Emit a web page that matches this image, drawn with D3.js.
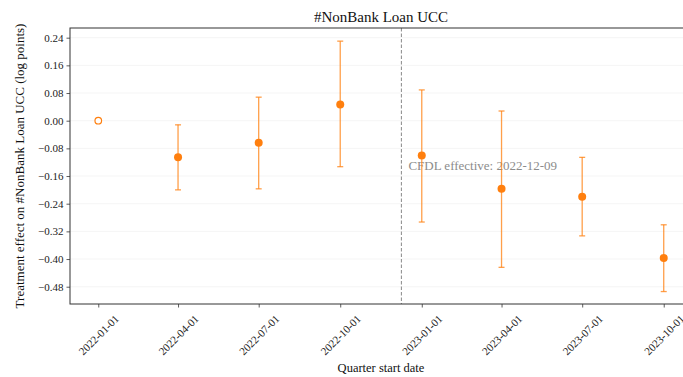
<!DOCTYPE html>
<html>
<head>
<meta charset="utf-8">
<script src="https://cdn.jsdelivr.net/npm/d3@7"></script>
<style>
  body { margin: 0; background: #fff; }
  svg, svg text { font-family: "Liberation Serif", "DejaVu Serif", serif; }
</style>
</head>
<body>
<script>
// quarters and estimates (log points)
var quarters = ["2022-01-01", "2022-04-01", "2022-07-01", "2022-10-01",
                "2023-01-01", "2023-04-01", "2023-07-01", "2023-10-01"];
var estimate = [0, -0.106, -0.064, 0.047, -0.101, -0.197, -0.220, -0.397];
var ciLow = [null, -0.200, -0.197, -0.133, -0.293, -0.424, -0.333, -0.494];
var ciHigh = [null, -0.012, 0.068, 0.230, 0.089, 0.028, -0.106, -0.301];
var yTicks = [0.24, 0.16, 0.08, 0.00, -0.08, -0.16, -0.24, -0.32, -0.40, -0.48];
var eventDate = "2022-12-09";

var width = 683, height = 377;
var margin = { top: 28, right: -9, bottom: 73, left: 70 };
var parse = d3.utcParse("%Y-%m-%d");
var fmt = d3.utcFormat("%Y-%m-%d");
var orange = "#ff7f0e";

var data = quarters.map(function(q, i) {
    return { date: parse(q), est: estimate[i], lo: ciLow[i], hi: ciHigh[i] };
});

var svg = d3.select("body").append("svg")
    .attr("width", width)
    .attr("height", height);

// matplotlib style 5% padding on the date range
var x0 = data[0].date, x1 = data[data.length - 1].date;
var pad = (x1 - x0) * 0.05;
var xScale = d3.scaleUtc()
    .domain([new Date(+x0 - pad), new Date(+x1 + pad)])
    .range([margin.left, width - margin.right]);

var yScale = d3.scaleLinear()
    .domain([-0.530, 0.268])
    .range([height - margin.bottom, margin.top]);

// faint grid
svg.append("g")
    .selectAll("line")
    .data(yTicks)
    .enter()
    .append("line")
    .attr("x1", margin.left)
    .attr("x2", width)
    .attr("y1", function(d) { return yScale(d); })
    .attr("y2", function(d) { return yScale(d); })
    .attr("stroke", "#f3f3f3")
    .attr("stroke-width", 0.8);

// event line
var ex = xScale(parse(eventDate));
svg.append("line")
    .attr("x1", ex).attr("x2", ex)
    .attr("y1", margin.top).attr("y2", height - margin.bottom)
    .attr("stroke", "#888")
    .attr("stroke-width", 1)
    .attr("stroke-dasharray", "3.5,2");

svg.append("text")
    .attr("x", ex + 7)
    .attr("y", yScale(-0.143))
    .attr("fill", "#8c8c8c")
    .attr("font-size", 13)
    .text("CFDL effective: " + eventDate);

// error bars
var bars = data.filter(function(d) { return d.lo !== null; });
var eb = svg.append("g")
    .attr("stroke", orange)
    .attr("stroke-opacity", 0.75)
    .attr("stroke-width", 1.3);
eb.selectAll(".v")
    .data(bars)
    .enter()
    .append("line")
    .attr("x1", function(d) { return xScale(d.date); })
    .attr("x2", function(d) { return xScale(d.date); })
    .attr("y1", function(d) { return yScale(d.lo); })
    .attr("y2", function(d) { return yScale(d.hi); });
["lo", "hi"].forEach(function(k) {
    eb.selectAll(".c" + k)
        .data(bars)
        .enter()
        .append("line")
        .attr("x1", function(d) { return xScale(d.date) - 3; })
        .attr("x2", function(d) { return xScale(d.date) + 3; })
        .attr("y1", function(d) { return yScale(d[k]); })
        .attr("y2", function(d) { return yScale(d[k]); });
});

// points
svg.append("g")
    .selectAll("circle")
    .data(data)
    .enter()
    .append("circle")
    .attr("cx", function(d) { return xScale(d.date); })
    .attr("cy", function(d) { return yScale(d.est); })
    .attr("r", function(d) { return d.lo === null ? 3.3 : 4; })
    .attr("fill", function(d) { return d.lo === null ? "#fff" : orange; })
    .attr("stroke", orange)
    .attr("stroke-width", function(d) { return d.lo === null ? 1.2 : 0; });

// axes
var xAxis = d3.axisBottom(xScale)
    .tickValues(data.map(function(d) { return d.date; }))
    .tickFormat(fmt)
    .tickSize(3.5)
    .tickSizeOuter(0);
var gx = svg.append("g")
    .attr("transform", "translate(0," + (height - margin.bottom) + ")")
    .call(xAxis);
gx.attr("font-family", null);
gx.selectAll("text")
    .style("font-family", "'Liberation Serif', serif")
    .attr("font-size", 11)
    .attr("fill", "#222")
    .attr("text-anchor", "middle")
    .attr("y", 0)
    .attr("dy", "0.35em")
    .attr("transform", "translate(0,31) rotate(-45)");

var yAxis = d3.axisLeft(yScale)
    .tickValues(yTicks)
    .tickFormat(function(d) { return d3.format(".2f")(d).replace("-", "\u2212"); })
    .tickSize(3.5)
    .tickSizeOuter(0);
var gy = svg.append("g")
    .attr("transform", "translate(" + margin.left + ",0)")
    .call(yAxis);
gy.attr("font-family", null);
gy.selectAll("text")
    .style("font-family", "'Liberation Serif', serif")
    .attr("font-size", 11)
    .attr("fill", "#222");

svg.selectAll(".domain").remove();
svg.selectAll(".tick line").attr("stroke", "#333").attr("stroke-width", 0.8);

// spines
svg.append("rect")
    .attr("x", margin.left)
    .attr("y", margin.top)
    .attr("width", width - margin.right - margin.left)
    .attr("height", height - margin.bottom - margin.top)
    .attr("fill", "none")
    .attr("stroke", "#333")
    .attr("stroke-width", 1);

// labels
var cx = (margin.left + width - margin.right) / 2;
svg.append("text")
    .attr("x", cx)
    .attr("y", 22)
    .attr("text-anchor", "middle")
    .attr("font-size", 15)
    .attr("fill", "#111")
    .text("#NonBank Loan UCC");

svg.append("text")
    .attr("x", cx)
    .attr("y", 372)
    .attr("text-anchor", "middle")
    .attr("font-size", 12.5)
    .attr("fill", "#111")
    .text("Quarter start date");

svg.append("text")
    .attr("transform", "translate(24," + ((margin.top + height - margin.bottom) / 2) + ") rotate(-90)")
    .attr("text-anchor", "middle")
    .attr("font-size", 13)
    .attr("fill", "#111")
    .text("Treatment effect on #NonBank Loan UCC (log points)");
</script>
</body>
</html>
